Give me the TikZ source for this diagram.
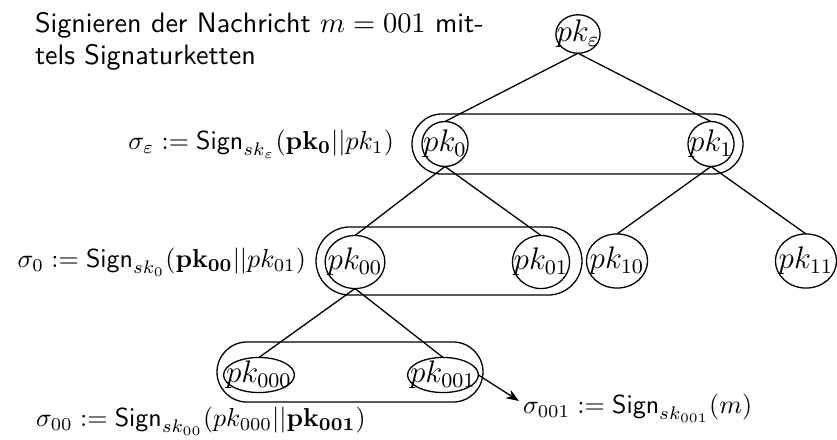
\documentclass[tikz,border=0pt]{standalone}
\usetikzlibrary{shapes.geometric,shapes.misc,arrows.meta}
\newcommand{\Sgn}{\mathsf{Sign}}
\begin{document}
\begin{tikzpicture}[x=0.3846pt,y=-0.3846pt,
  key/.style={draw,ellipse,inner sep=-3pt,outer sep=0pt,line width=0.5pt,font=\fontsize{11.5}{13}\selectfont},
  grp/.style={draw,rounded rectangle,inner sep=0pt,outer sep=0pt,line width=0.5pt},
  lab/.style={inner sep=0pt,outer sep=0pt},
  edge/.style={line width=0.5pt}]
\useasboundingbox (0,0) rectangle (837,439);
% groups
\node[grp,minimum width=127.3pt,minimum height=23.1pt] (g1) at (577.5,144) {};
\node[grp,minimum width=102.3pt,minimum height=26.2pt] (g2) at (449,261) {};
\node[grp,minimum width=102.3pt,minimum height=23.1pt] (g3) at (350,372) {};
% keys
\node[key,minimum width=17pt,minimum height=14.8pt] (e) at (578,34) {$pk_\varepsilon$};
\node[key,minimum width=17.7pt,minimum height=17.3pt] (k0) at (445,144) {$pk_0$};
\node[key,minimum width=17.7pt,minimum height=17.3pt] (k1) at (711,144) {$pk_1$};
\node[key,minimum width=23pt,minimum height=20.4pt] (k00) at (355,262) {$pk_{00}$};
\node[key,minimum width=22pt,minimum height=20.4pt] (k01) at (541,262) {$pk_{01}$};
\node[key,minimum width=23.5pt,minimum height=20.8pt] (k10) at (617,261) {$pk_{10}$};
\node[key,minimum width=23.5pt,minimum height=20.8pt] (k11) at (806,261) {$pk_{11}$};
\node[key,minimum width=26.5pt,minimum height=13.5pt] (k000) at (259,375) {$pk_{000}$};
\node[key,minimum width=26.5pt,minimum height=13.5pt] (k001) at (443,375) {$pk_{001}$};
% edges
\draw[edge] (e.south) -- (k0.north);
\draw[edge] (e.south) -- (k1.north);
\draw[edge] (k0.south) -- (k00.north);
\draw[edge] (k0.south) -- (k01.north);
\draw[edge] (k1.south) -- (k10.north);
\draw[edge] (k1.south) -- (k11.north);
\draw[edge] (k00.south) -- (k000.north);
\draw[edge] (k00.south) -- (k001.north);
% labels
\node[lab,anchor=north west,align=left,font=\fontsize{10.8}{12.3}\selectfont\sffamily] (t) at (35,12) {Signieren der Nachricht $m=001$ mit-\\tels Signaturketten};
\node[lab,anchor=east] (l1) at (394,144) {$\sigma_\varepsilon:=\Sgn_{sk_\varepsilon}(\mathbf{pk_0}||pk_1)$};
\node[lab,anchor=east] (l2) at (306,262) {$\sigma_0:=\Sgn_{sk_0}(\mathbf{pk_{00}}||pk_{01})$};
\node[lab,anchor=west] (l3) at (36,421) {$\sigma_{00}:=\Sgn_{sk_{00}}(pk_{000}||\mathbf{pk_{001}})$};
\node[lab,anchor=west] (l4) at (523,408) {$\sigma_{001}:=\Sgn_{sk_{001}}(m)$};
\coordinate (a4) at (519,401);
\draw[edge,-{Stealth[length=5pt]}] (k001.east) -- (a4);
\end{tikzpicture}
\end{document}
